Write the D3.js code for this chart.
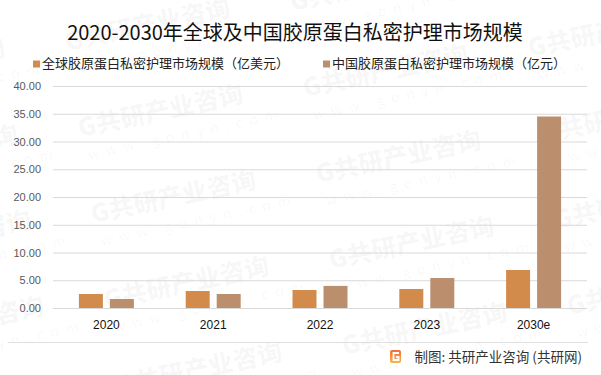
<!DOCTYPE html>
<html>
<head>
<meta charset="utf-8">
<script src="https://cdn.jsdelivr.net/npm/d3@7"></script>
<style>
  body { margin: 0; background: #fff; }
  svg { display: block; font-family: "Noto Sans CJK SC", "Noto Sans", sans-serif; }
</style>
</head>
<body>
<div id="chart"></div>
<script>
const title = '2020-2030年全球及中国胶原蛋白私密护理市场规模';
const categories = ['2020', '2021', '2022', '2023', '2030e'];
const seriesNames = ['全球胶原蛋白私密护理市场规模（亿美元）', '中国胶原蛋白私密护理市场规模（亿元）'];
const globalValues = [2.52, 3.06, 3.24, 3.42, 6.85];
const chinaValues = [1.62, 2.52, 3.98, 5.40, 34.5];
const yTicks = [0, 5, 10, 15, 20, 25, 30, 35, 40];
const source = '制图: 共研产业咨询 (共研网)';

const colors = ['#D38B4C', '#BB8F6D'];
const width = 601, height = 375;

var svg = d3.select('#chart').append('svg')
  .attr('width', width)
  .attr('height', height);

// faint watermark tiles across the whole picture, drawn under everything
var wm = svg.append('g').attr('class', 'watermark');
for (let c = -1; c < 4; c++) {
  for (let r = -1; r < 6; r++) {
    let x = 80 + 225 * c + 13 * r;
    let y = 137 + 86 * r - 40 * c;
    let g = wm.append('g')
      .attr('transform', `translate(${x},${y}) rotate(-12)`)
      .attr('fill', '#000')
      .attr('fill-opacity', 0.04);
    g.append('text')
      .attr('font-size', 25)
      .attr('font-weight', 900)
      .text('G共研产业咨询');
    g.append('text')
      .attr('x', 4)
      .attr('y', 24)
      .attr('font-size', 14)
      .attr('letter-spacing', 7)
      .text('www.gonyn.com');
  }
}

svg.append('text')
  .attr('x', 295)
  .attr('y', 40)
  .attr('text-anchor', 'middle')
  .attr('font-size', 20)
  .attr('fill', '#111')
  .text(title);

// legend
var legendX = [33, 323];
seriesNames.forEach(function(name, i) {
  svg.append('rect')
    .attr('x', legendX[i])
    .attr('y', 60.5)
    .attr('width', 7)
    .attr('height', 7)
    .attr('fill', colors[i]);
  svg.append('text')
    .attr('x', legendX[i] + 9)
    .attr('y', 68)
    .attr('font-size', 13)
    .attr('fill', '#222')
    .text(name);
});

var xScale = d3.scaleBand()
  .domain(categories)
  .range([53, 587])
  .padding(0);

var pairWidth = 55;
var x1 = d3.scaleBand()
  .domain([0, 1])
  .range([0, pairWidth])
  .paddingInner(0.226);

var yScale = d3.scaleLinear()
  .domain([0, 40])
  .range([308, 86]);

// gridlines + y labels
var yAxis = svg.append('g')
  .attr('transform', 'translate(53,0)')
  .call(d3.axisLeft(yScale)
    .tickValues(yTicks)
    .tickSize(-534)
    .tickPadding(12)
    .tickFormat(d3.format('.2f')));
yAxis.select('.domain').remove();
yAxis.selectAll('.tick line').attr('stroke', '#d9d9d9').attr('stroke-width', 1);
yAxis.selectAll('.tick text')
  .attr('fill', '#595959')
  .attr('font-size', 11)
  .attr('font-family', '"Liberation Sans", Arial, sans-serif');

var series = [globalValues, chinaValues];
series.forEach(function(values, s) {
  svg.append('g').selectAll('rect')
    .data(values)
    .enter().append('rect')
    .attr('x', (d, i) => xScale(categories[i]) + (xScale.bandwidth() - pairWidth) / 2 + x1(s))
    .attr('y', d => yScale(d))
    .attr('width', x1.bandwidth())
    .attr('height', d => yScale(0) - yScale(d))
    .attr('fill', colors[s]);
});

// x labels
var xAxis = svg.append('g')
  .attr('transform', 'translate(0,308)')
  .call(d3.axisBottom(xScale).tickSize(0).tickPadding(12));
xAxis.select('.domain').remove();
xAxis.selectAll('.tick text')
  .attr('fill', '#111')
  .attr('font-size', 12)
  .attr('font-family', '"Liberation Sans", Arial, sans-serif');

// footer
svg.append('line')
  .attr('x1', 8).attr('x2', 588)
  .attr('y1', 342.5).attr('y2', 342.5)
  .attr('stroke', '#e0e0e0');

var grad = svg.append('defs').append('linearGradient')
  .attr('id', 'logoGrad')
  .attr('x1', 0).attr('y1', 0).attr('x2', 0).attr('y2', 1);
grad.append('stop').attr('offset', 0).attr('stop-color', '#F26B3A');
grad.append('stop').attr('offset', 1).attr('stop-color', '#F8B64C');

var logo = svg.append('g').attr('transform', 'translate(390,350)');
logo.append('rect')
  .attr('width', 11).attr('height', 13).attr('rx', 2)
  .attr('fill', 'url(#logoGrad)');
logo.append('path')
  .attr('d', 'M9,3 H3.5 V10 H8.5 V7 H6')
  .attr('fill', 'none')
  .attr('stroke', '#fff')
  .attr('stroke-width', 1.8);

svg.append('text')
  .attr('x', 582)
  .attr('y', 362)
  .attr('text-anchor', 'end')
  .attr('font-size', 13.5)
  .attr('fill', '#333')
  .text(source);
</script>
</body>
</html>
